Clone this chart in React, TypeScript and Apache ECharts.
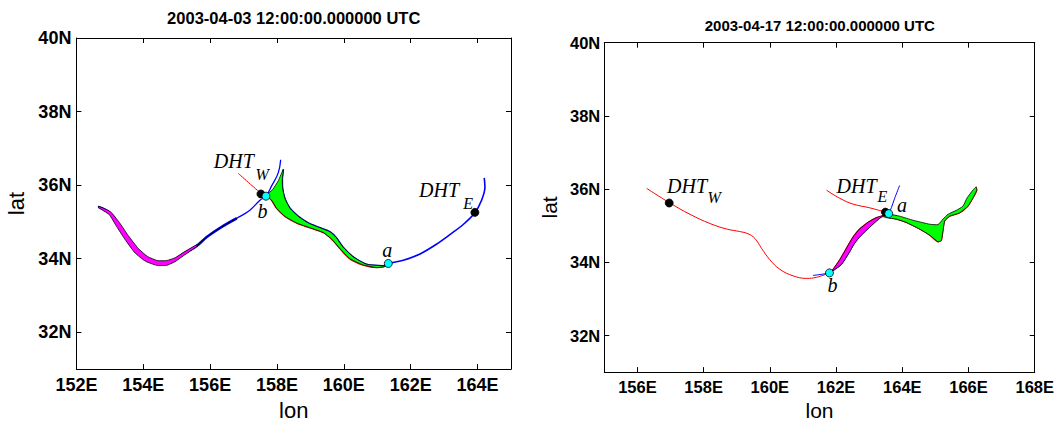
import React, { useEffect, useRef } from "react";
import * as echarts from "echarts";

type P = [number, number];

// ---------- axis ticks ----------
const leftLonTicks = [152, 154, 156, 158, 160, 162, 164];
const rightLonTicks = [156, 158, 160, 162, 164, 166, 168];
const latTicks = [32, 34, 36, 38, 40];

const leftTitle = "2003-04-03 12:00:00.000000 UTC";
const rightTitle = "2003-04-17 12:00:00.000000 UTC";

// ---------- left panel (2003-04-03) ----------
const leftBlueWest: P[] = [
  [152.66, 35.41], [153.0, 35.24], [153.25, 34.93], [153.5, 34.58], [153.8, 34.22],
  [154.1, 34.0], [154.4, 33.89], [154.7, 33.89], [154.95, 33.98], [155.2, 34.13],
  [155.6, 34.35], [155.9, 34.59], [156.3, 34.84], [156.8, 35.1], [157.19, 35.32],
  [157.49, 35.59], [157.67, 35.7], [157.84, 35.98], [158.04, 36.34], [158.11, 36.69],
];
const leftDarkWestEnd = 14; // the dark (thin contour) part of the western branch
const leftBlueEast: P[] = [
  [158.19, 36.43], [158.16, 36.16], [158.17, 35.9], [158.24, 35.63], [158.39, 35.37],
  [158.64, 35.15], [158.94, 34.97], [159.29, 34.84], [159.59, 34.73], [159.77, 34.58],
  [159.98, 34.31], [160.28, 34.05], [160.68, 33.85], [161.18, 33.81], [161.36, 33.87],
  [161.78, 33.96], [162.28, 34.13], [162.78, 34.4], [163.18, 34.66], [163.57, 34.93],
  [163.92, 35.25], [164.12, 35.59], [164.22, 35.94], [164.2, 36.2],
];
const leftRedWest: P[] = [[156.84, 36.32], [157.2, 36.03], [157.54, 35.76]];
const leftRedEdge: P[] = [
  [157.69, 35.72], [157.84, 35.59], [157.99, 35.37], [158.24, 35.15], [158.59, 34.97],
  [158.99, 34.84], [159.39, 34.71], [159.64, 34.53], [159.89, 34.27], [160.18, 34.0],
  [160.58, 33.83], [160.98, 33.76], [161.18, 33.78], [161.36, 33.85],
];
const leftGreen: P[] = [
  [158.19, 36.43], [158.04, 36.12], [157.87, 35.88], [157.69, 35.72], [157.84, 35.59],
  [157.99, 35.37], [158.24, 35.15], [158.59, 34.97], [158.99, 34.84], [159.39, 34.71],
  [159.64, 34.53], [159.89, 34.27], [160.18, 34.0], [160.58, 33.83], [160.98, 33.76],
  [161.18, 33.78], [161.3, 33.82], [161.18, 33.81], [160.68, 33.85], [160.28, 34.05],
  [159.98, 34.31], [159.77, 34.58], [159.59, 34.73], [159.29, 34.84], [158.94, 34.97],
  [158.64, 35.15], [158.39, 35.37], [158.24, 35.63], [158.17, 35.9], [158.16, 36.16],
];
const leftMagenta: P[] = [
  [152.66, 35.43], [153.02, 35.28], [153.29, 34.98], [153.55, 34.63], [153.85, 34.28],
  [154.13, 34.06], [154.42, 33.95], [154.7, 33.95], [154.96, 34.03], [155.2, 34.17],
  [155.6, 34.38], [155.6, 34.33], [155.2, 34.08], [154.95, 33.92], [154.7, 33.82],
  [154.4, 33.82], [154.07, 33.93], [153.75, 34.16], [153.45, 34.53], [153.2, 34.88],
  [152.98, 35.2], [152.66, 35.39],
];
const leftBlack: P[] = [[157.52, 35.76], [163.92, 35.26]];
const leftCyan: P[] = [[157.67, 35.7], [161.33, 33.87]];
const leftLabelText = ["DHT", "W", "b", "a", "DHT", "E"];
const leftLabelPos: P[] = [
  [156.71, 36.67], [157.56, 36.29], [157.57, 35.3], [161.3, 34.25], [162.85, 35.88], [163.72, 35.49],
];

// ---------- right panel (2003-04-17) ----------
const rightRedWest: P[] = [
  [156.28, 36.02], [156.98, 35.62], [157.59, 35.31], [158.19, 35.06], [158.69, 34.91],
  [159.09, 34.84], [159.34, 34.78], [159.55, 34.65], [159.75, 34.38], [160.0, 34.07],
  [160.3, 33.81], [160.7, 33.63], [161.11, 33.56], [161.41, 33.59], [161.8, 33.71],
];
const rightRedEast: P[] = [
  [161.71, 35.97], [162.11, 35.75], [162.51, 35.59], [163.01, 35.49], [163.49, 35.37],
];
const rightRedEdge: P[] = [
  [161.8, 33.71], [161.91, 33.81], [162.11, 34.07], [162.31, 34.38], [162.51, 34.69],
  [162.71, 34.91], [162.96, 35.09], [163.22, 35.22], [163.42, 35.25], [163.82, 35.18],
  [164.12, 35.09], [164.52, 34.91], [164.83, 34.74], [165.08, 34.56], [165.18, 34.6],
  [165.23, 34.87], [165.28, 35.13], [165.43, 35.26], [165.73, 35.35], [165.98, 35.53],
  [166.13, 35.75], [166.25, 35.97], [166.23, 36.06],
];
const rightBlue: P[] = [
  [161.3, 33.64], [161.55, 33.67], [161.8, 33.71], [161.91, 33.77], [162.16, 33.94],
  [162.36, 34.21], [162.56, 34.52], [162.76, 34.74], [163.02, 34.96], [163.22, 35.13],
  [163.42, 35.27], [163.59, 35.35], [163.67, 35.49], [163.77, 35.75], [163.92, 36.1],
];
const rightMagenta: P[] = [
  [161.8, 33.71], [161.91, 33.81], [162.11, 34.07], [162.31, 34.38], [162.51, 34.69],
  [162.71, 34.91], [162.96, 35.09], [163.22, 35.22], [163.42, 35.28], [163.22, 35.13],
  [163.02, 34.96], [162.76, 34.74], [162.56, 34.52], [162.36, 34.21], [162.16, 33.94],
  [161.91, 33.77],
];
const rightGreen: P[] = [
  [163.42, 35.27], [163.62, 35.31], [163.92, 35.26], [164.32, 35.15], [164.83, 35.04],
  [165.08, 35.03], [165.23, 35.18], [165.38, 35.31], [165.63, 35.42], [165.83, 35.53],
  [165.95, 35.75], [166.13, 35.97], [166.23, 36.06], [166.25, 35.97], [166.13, 35.75],
  [165.98, 35.53], [165.73, 35.35], [165.43, 35.26], [165.28, 35.13], [165.23, 34.87],
  [165.18, 34.6], [165.08, 34.56], [164.83, 34.74], [164.52, 34.91], [164.12, 35.09],
  [163.82, 35.18], [163.52, 35.22],
];
const rightBlack: P[] = [[156.96, 35.62], [163.49, 35.37]];
const rightCyan: P[] = [[161.8, 33.71], [163.59, 35.33]];
const rightLabelText = ["DHT", "W", "DHT", "E", "a", "b"];
const rightLabelPos: P[] = [
  [157.5, 36.08], [158.32, 35.78], [162.62, 36.08], [163.4, 35.79], [163.99, 35.57], [161.89, 33.37],
];

const SANS = "Liberation Sans";
const SERIF = "Liberation Serif";

function lineSeries(data: P[], color: string, width: number, ai: number, smooth: number) {
  return {
    type: "line",
    data,
    xAxisIndex: ai,
    yAxisIndex: ai,
    symbol: "none",
    showSymbol: false,
    smooth,
    silent: true,
    z: 2,
    lineStyle: { color, width },
  };
}

function polySeries(pts: P[], fill: string, ai: number) {
  return {
    type: "custom",
    coordinateSystem: "cartesian2d",
    xAxisIndex: ai,
    yAxisIndex: ai,
    data: [pts[0]],
    silent: true,
    z: 3,
    renderItem: (_params: any, api: any) => ({
      type: "polygon",
      shape: { points: pts.map((p) => api.coord(p)), smooth: 0.15 },
      style: { fill, stroke: "#000", lineWidth: 0.8 },
    }),
  };
}

function dotSeries(data: P[], color: string, ai: number) {
  return {
    type: "scatter",
    data,
    xAxisIndex: ai,
    yAxisIndex: ai,
    symbolSize: 8,
    silent: true,
    z: 4,
    itemStyle: { color, borderColor: "#000", borderWidth: 0.8, opacity: 1 },
  };
}

function labelSeries(texts: string[], pos: P[], ai: number) {
  return {
    type: "scatter",
    xAxisIndex: ai,
    yAxisIndex: ai,
    symbolSize: 1,
    silent: true,
    z: 5,
    itemStyle: { color: "rgba(0,0,0,0)" },
    data: texts.map((t, i) => ({
      name: t,
      value: pos[i],
      label: { fontSize: t === "W" || t === "E" ? 16 : 20 },
    })),
    label: {
      show: true,
      position: "inside",
      formatter: (p: any) => p.name,
      fontFamily: SERIF,
      fontStyle: "italic",
      color: "#000",
      textBorderWidth: 0,
      textBorderColor: "transparent",
      opacity: 1,
    },
  };
}

function xAxes(gi: number, min: number, max: number, ticks: number[], fs: number, margin: number, nameGap: number, nameSize: number) {
  const common = {
    gridIndex: gi,
    type: "value",
    min,
    max,
    splitLine: { show: false },
    axisLine: { show: true, onZero: false, lineStyle: { color: "#000", width: 1 } },
    axisTick: { show: true, inside: true, length: 5, customValues: ticks, lineStyle: { color: "#000" } },
  };
  return [
    {
      ...common,
      position: "bottom",
      axisLabel: {
        customValues: ticks,
        formatter: (v: number) => `${v}E`,
        color: "#000",
        fontFamily: SANS,
        fontWeight: "bold",
        fontSize: fs,
        margin,
      },
      name: "lon",
      nameLocation: "middle",
      nameGap,
      nameTextStyle: { color: "#000", fontFamily: SANS, fontSize: nameSize },
    },
    { ...common, position: "top", axisLabel: { show: false } },
  ];
}

function yAxes(gi: number, fs: number, margin: number, nameGap: number, nameSize: number) {
  const common = {
    gridIndex: gi,
    type: "value",
    min: 31,
    max: 40,
    splitLine: { show: false },
    axisLine: { show: true, onZero: false, lineStyle: { color: "#000", width: 1 } },
    axisTick: { show: true, inside: true, length: 5, customValues: latTicks, lineStyle: { color: "#000" } },
  };
  return [
    {
      ...common,
      position: "left",
      axisLabel: {
        customValues: latTicks,
        formatter: (v: number) => `${v}N`,
        color: "#000",
        fontFamily: SANS,
        fontWeight: "bold",
        fontSize: fs,
        margin,
      },
      name: "lat",
      nameLocation: "middle",
      nameGap,
      nameTextStyle: { color: "#000", fontFamily: SANS, fontSize: nameSize },
    },
    { ...common, position: "right", axisLabel: { show: false } },
  ];
}

export default function App() {
  const ref = useRef<HTMLDivElement>(null);
  useEffect(() => {
    if (!ref.current) return;
    const chart = echarts.init(ref.current, undefined, { renderer: "svg" });
    const lx = xAxes(0, 152, 165, leftLonTicks, 18, 7, 25, 22);
    const rx = xAxes(1, 155, 168, rightLonTicks, 16.5, 6, 24, 21);
    const ly = yAxes(0, 18, 5, 49, 22);
    const ry = yAxes(1, 16.5, 4, 44, 21);
    const darkWest = leftBlueWest.slice(0, leftDarkWestEnd);
    chart.setOption({
      animation: false,
      backgroundColor: "#fff",
      grid: [
        { left: 76.4, top: 38, width: 434.6, height: 340.7 },
        { left: 604.3, top: 42.7, width: 431, height: 340 },
      ],
      // order: left bottom, left top, right bottom, right top
      xAxis: [lx[0], lx[1], rx[0], rx[1]],
      yAxis: [ly[0], ly[1], ry[0], ry[1]],
      graphic: [
        {
          type: "text",
          x: 293.7,
          y: 18.3,
          style: { text: leftTitle, fill: "#000", fontFamily: SANS, fontWeight: "bold", fontSize: 16.5, align: "center", verticalAlign: "middle" },
        },
        {
          type: "text",
          x: 819.8,
          y: 25,
          style: { text: rightTitle, fill: "#000", fontFamily: SANS, fontWeight: "bold", fontSize: 15, align: "center", verticalAlign: "middle" },
        },
      ],
      series: [
        // left panel
        lineSeries(darkWest, "#0000ff", 2.6, 0, 0.4),
        lineSeries(leftBlueWest, "#0000ff", 1.3, 0, 0.4),
        lineSeries(darkWest, "#000000", 1, 0, 0.4),
        lineSeries(leftRedWest, "#ff0000", 1, 0, 0.4),
        lineSeries(leftRedEdge, "#ff0000", 1.6, 0, 0.3),
        lineSeries(leftBlueEast, "#0000ff", 1.6, 0, 0.3),
        polySeries(leftMagenta, "#ff00ff", 0),
        polySeries(leftGreen, "#00ff00", 0),
        dotSeries(leftBlack, "#000000", 0),
        dotSeries(leftCyan, "#00ffff", 0),
        labelSeries(leftLabelText, leftLabelPos, 0),
        // right panel
        lineSeries(rightRedWest, "#ff0000", 1, 2, 0.4),
        lineSeries(rightRedEast, "#ff0000", 1, 2, 0.4),
        lineSeries(rightBlue, "#0000ff", 1, 2, 0.3),
        lineSeries(rightRedEdge, "#ff0000", 1.2, 2, 0.2),
        polySeries(rightMagenta, "#ff00ff", 2),
        polySeries(rightGreen, "#00ff00", 2),
        dotSeries(rightBlack, "#000000", 2),
        dotSeries(rightCyan, "#00ffff", 2),
        labelSeries(rightLabelText, rightLabelPos, 2),
      ],
    });
    return () => chart.dispose();
  }, []);
  return (
    <div
      ref={ref}
      style={{ position: "fixed", left: 0, top: 0, width: 1057, height: 426, background: "#fff" }}
    />
  );
}
